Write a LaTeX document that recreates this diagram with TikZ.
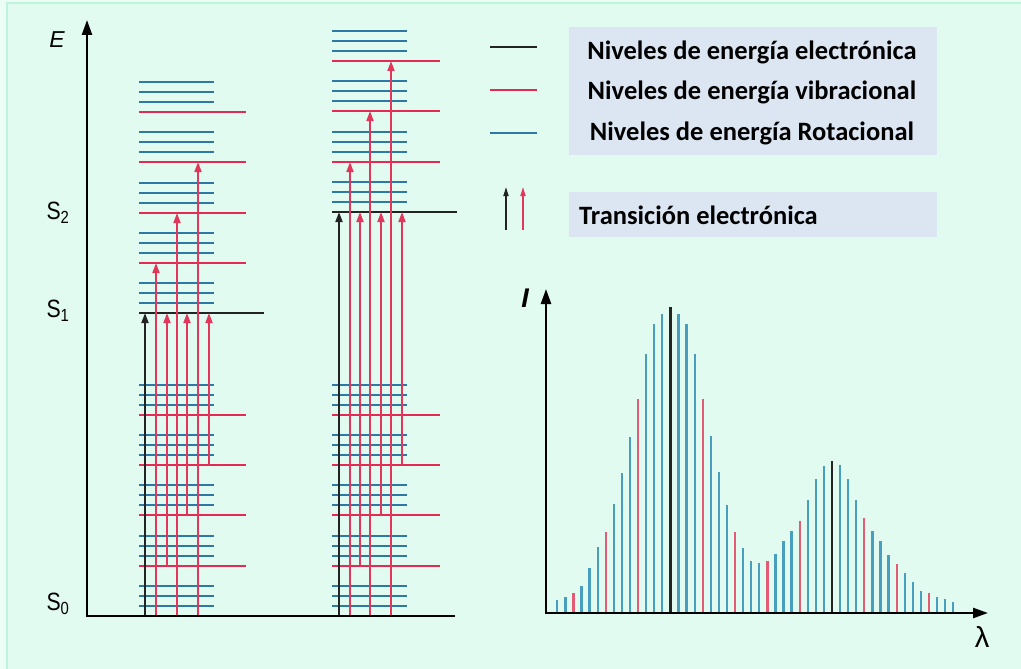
\documentclass[tikz,border=0pt]{standalone}
\usepackage{fontspec}
\setmainfont{Liberation Sans}
\newfontfamily\legfont{Carlito}
\usetikzlibrary{arrows.meta}
\definecolor{bgout}{RGB}{236,253,246}
\definecolor{bgmint}{RGB}{225,251,241}
\definecolor{bordmint}{RGB}{190,243,222}
\definecolor{levblue}{RGB}{45,120,165}
\definecolor{levred}{RGB}{228,42,82}
\definecolor{arrred}{RGB}{226,55,90}
\definecolor{specblue}{RGB}{72,158,190}
\definecolor{specred}{RGB}{226,92,118}
\definecolor{darkline}{RGB}{35,35,35}
\definecolor{legbox}{RGB}{220,230,242}
\tikzset{
  bluelev/.style={draw=levblue, line width=2.2pt},
  redlev/.style={draw=levred, line width=2.2pt},
  blacklev/.style={draw=darkline, line width=2.2pt},
  redarrow/.style={draw=arrred, line width=1.8pt, -{Triangle[width=7pt,length=10pt]}},
  blackarrow/.style={draw=darkline, line width=1.8pt, -{Triangle[width=7pt,length=10pt]}},
  axisline/.style={draw=black, line width=2.4pt, -{Triangle[width=10pt,length=15pt]}},
  plainaxis/.style={draw=black, line width=2.4pt},
  sb/.style={draw=specblue, line width=2.3pt},
  sr/.style={draw=specred, line width=2.3pt},
  sk/.style={draw=darkline, line width=2.8pt},
  slabel/.style={font=\fontsize{25}{25}\selectfont, inner sep=0pt},
  legtext/.style={font=\legfont\bfseries\fontsize{26.5}{26.5}\selectfont, inner sep=0pt},
  legboxstyle/.style={fill=legbox, draw=none},
  legline/.style={line width=2.8pt}
}
\begin{document}
\begin{tikzpicture}[x=1pt,y=-1pt]
\useasboundingbox (0,0) rectangle (1021,669);
\fill[bgout] (0,0) rectangle (1021,669);
\fill[bgmint] (7,3) rectangle (1021,669);
\draw[bordmint, line width=1.5pt] (7,669) -- (7,3) -- (1021,3);

% ---------- energy levels ----------
% lower block (both columns)
\foreach \k in {0,...,4}{
  \pgfmathsetmacro\ry{round(616-50.3*\k)}
  \foreach \d in {10,20,30}{
    \draw[bluelev] (139,{\ry-\d}) -- (214,{\ry-\d});
    \draw[bluelev] (332,{\ry-\d}) -- (407,{\ry-\d});
  }
}
\foreach \k in {1,...,4}{
  \pgfmathsetmacro\ry{round(616-50.3*\k)}
  \draw[redlev] (139,\ry) -- (246,\ry);
  \draw[redlev] (332,\ry) -- (440,\ry);
}
% upper block left column (S1)
\foreach \k in {0,...,4}{
  \pgfmathsetmacro\ry{round(313-50.2*\k)}
  \foreach \d in {10,20,30}{
    \draw[bluelev] (139,{\ry-\d}) -- (214,{\ry-\d});
  }
}
\foreach \k in {1,...,4}{
  \pgfmathsetmacro\ry{round(313-50.2*\k)}
  \draw[redlev] (139,\ry) -- (246,\ry);
}
% upper block right column (S2)
\foreach \k in {0,...,3}{
  \pgfmathsetmacro\ry{round(212-50.3*\k)}
  \foreach \d in {10,20,30}{
    \draw[bluelev] (332,{\ry-\d}) -- (407,{\ry-\d});
  }
}
\foreach \k in {1,...,3}{
  \pgfmathsetmacro\ry{round(212-50.3*\k)}
  \draw[redlev] (332,\ry) -- (440,\ry);
}
% electronic levels
\draw[blacklev] (139,313) -- (264,313);
\draw[blacklev] (332,212) -- (457,212);

% ---------- transitions ----------
\draw[blackarrow] (145,616) -- (145,313);
\foreach \x/\a/\b in {156/616/263, 167/566/313, 177/616/213, 187/515/313, 198/616/162, 209/465/313}{
  \draw[redarrow] (\x,\a) -- (\x,\b);
}
\draw[blackarrow] (339,616) -- (339,212);
\foreach \x/\a/\b in {350/616/162, 360/566/212, 370/616/111, 381/515/212, 391/616/61, 402/465/212}{
  \draw[redarrow] (\x,\a) -- (\x,\b);
}

% ---------- energy axes ----------
\draw[axisline] (87,617.2) -- (87,20);
\draw[plainaxis] (85.8,616) -- (455,616);
\node (E) at (57,40) {\fontsize{23}{23}\selectfont\itshape E};
\node[slabel] (S2) at (58,213) {\scalebox{0.85}[1]{S\textsubscript{2}}};
\node[slabel] (S1) at (58,311) {\scalebox{0.85}[1]{S\textsubscript{1}}};
\node[slabel] (S0) at (58,604) {\scalebox{0.85}[1]{S\textsubscript{0}}};

% ---------- legend ----------
\draw[blacklev, legline] (490,47) -- (537,47);
\draw[redlev, legline] (490,90) -- (537,90);
\draw[bluelev, legline] (490,133) -- (537,133);
\fill[legboxstyle] (569,27) rectangle (937,155);
\node[legtext] (t1) at (752,52) {Niveles de energía electrónica};
\node[legtext] (t2) at (752,92) {Niveles de energía vibracional};
\node[legtext] (t3) at (752,133) {Niveles de energía Rotacional};
\draw[blackarrow, line width=1.6pt, -{Triangle[width=5pt,length=9pt]}] (506,230) -- (506,187);
\draw[redarrow, line width=1.6pt, -{Triangle[width=5pt,length=9pt]}] (523,230) -- (523,187);
\fill[legboxstyle] (569,192) rectangle (937,237);
\node[legtext, anchor=west] (t4) at (579,215) {Transición electrónica};

% ---------- spectrum ----------
\foreach \i/\h/\c in {0/600/sb, 1/597.3/sb, 2/592.7/sr, 3/586/sb, 4/568.3/sb, 5/547.3/sb, 6/531.7/sr, 7/504/sb, 8/472.7/sb, 9/436.7/sb,
  10/399.3/sr, 11/354/sb, 12/324.3/sb, 13/314.3/sb, 14/306.7/sk, 15/314.3/sb, 16/324.3/sb, 17/354/sb, 18/399.3/sr, 19/435.7/sb,
  20/471.7/sb, 21/505.3/sb, 22/531.7/sr, 23/547.7/sb, 24/561/sb, 25/562.5/sb, 26/560.7/sr, 27/554/sb, 28/541/sb, 29/530.7/sb,
  30/521.3/sr, 31/500/sb, 32/479.3/sb, 33/466/sb, 34/460.7/sk, 35/465/sb, 36/479.3/sb, 37/500/sb, 38/518.3/sr, 39/530.7/sb,
  40/541/sb, 41/555/sb, 42/564/sr, 43/572.7/sb, 44/582.3/sb, 45/590.7/sb, 46/593.3/sr, 47/597/sb, 48/599.3/sb, 49/601.7/sb}{
  \draw[\c] ({557.3+8.08*\i},613) -- ({557.3+8.08*\i},\h);
}
\draw[axisline] (546,614.2) -- (546,289);
\draw[axisline] (544.8,613) -- (988,613);
\node (I) at (525,298) {\fontsize{27}{27}\selectfont\bfseries\itshape I};
\node (lam) at (982,637) {\fontsize{29}{29}\selectfont λ};
\end{tikzpicture}
\end{document}
